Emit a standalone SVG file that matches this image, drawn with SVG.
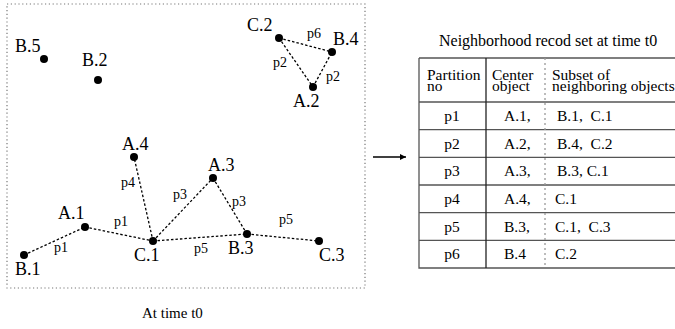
<svg xmlns="http://www.w3.org/2000/svg" width="675" height="329" viewBox="0 0 675 329">
<defs>
<style>
text{font-family:"Liberation Serif","Times New Roman",serif;fill:#000}
.nl{font-size:18px}
.el{font-size:14px}
.tb{font-size:15.5px}
.dot{fill:#000}
.edge{stroke:#000;stroke-width:1.3;stroke-dasharray:2.5 2;fill:none}
.frame{stroke:#777;stroke-width:1.2;stroke-dasharray:1.2 2.6;fill:none}
.tline{stroke:#555;stroke-width:1.3;fill:none}
</style>
<marker id="ah" viewBox="0 0 10 10" refX="10" refY="5" markerWidth="13" markerHeight="6" markerUnits="userSpaceOnUse" orient="auto">
<path d="M0,0 L10,5 L0,10 z" fill="#000"/>
</marker>
</defs>
<rect class="frame" x="7" y="4" width="358" height="284"/>
<g id="connectors">
<line class="edge" x1="24" y1="255" x2="85" y2="227"/>
<line class="edge" x1="85" y1="227" x2="153" y2="241"/>
<line class="edge" x1="153" y1="241" x2="134" y2="157"/>
<line class="edge" x1="153" y1="241" x2="213" y2="178"/>
<line class="edge" x1="213" y1="178" x2="247" y2="234"/>
<line class="edge" x1="153" y1="241" x2="247" y2="234"/>
<line class="edge" x1="247" y1="234" x2="319" y2="241"/>
<line class="edge" x1="279" y1="38" x2="332" y2="52"/>
<line class="edge" x1="279" y1="38" x2="313" y2="87"/>
<line class="edge" x1="313" y1="87" x2="332" y2="52"/>
<line x1="373" y1="157" x2="406" y2="157" stroke="#000" stroke-width="1.5" marker-end="url(#ah)"/>
</g>
<g id="edge-labels" class="el">
<text x="307" y="38">p6</text>
<text x="273" y="67">p2</text>
<text x="326" y="81">p2</text>
<text x="121" y="187">p4</text>
<text x="173" y="199">p3</text>
<text x="232" y="206">p3</text>
<text x="114" y="226">p1</text>
<text x="54" y="252">p1</text>
<text x="194" y="253">p5</text>
<text x="279" y="224">p5</text>
</g>
<g id="B5"><circle class="dot" cx="44" cy="59" r="4"/><text class="nl" x="15" y="52">B.5</text></g>
<g id="B2"><circle class="dot" cx="98" cy="80" r="4"/><text class="nl" x="82" y="66">B.2</text></g>
<g id="C2"><circle class="dot" cx="279" cy="38" r="4"/><text class="nl" x="247" y="31">C.2</text></g>
<g id="B4"><circle class="dot" cx="332" cy="52" r="4"/><text class="nl" x="333" y="45">B.4</text></g>
<g id="A2"><circle class="dot" cx="313" cy="87" r="4"/><text class="nl" x="293" y="107">A.2</text></g>
<g id="A4"><circle class="dot" cx="134" cy="157" r="4"/><text class="nl" x="122" y="150">A.4</text></g>
<g id="A3"><circle class="dot" cx="213" cy="178" r="4"/><text class="nl" x="208" y="171">A.3</text></g>
<g id="A1"><circle class="dot" cx="85" cy="227" r="4"/><text class="nl" x="58" y="219">A.1</text></g>
<g id="C1"><circle class="dot" cx="153" cy="241" r="4"/><text class="nl" x="134" y="261">C.1</text></g>
<g id="B3"><circle class="dot" cx="247" cy="234" r="4"/><text class="nl" x="228" y="254">B.3</text></g>
<g id="C3"><circle class="dot" cx="319" cy="241" r="4"/><text class="nl" x="319" y="261">C.3</text></g>
<g id="B1"><circle class="dot" cx="24" cy="255" r="4"/><text class="nl" x="15" y="275">B.1</text></g>
<text x="142" y="318" style="font-size:15px">At time t0</text>
<g id="table">
<text x="439" y="46" style="font-size:16px">Neighborhood recod set at time t0</text>
<path class="tline" d="M419,58 H676 M419,58 V268 H676 M419,102 H676 M419,129.7 H676 M419,157.3 H676 M419,185 H676 M419,212.7 H676 M419,240.3 H676"/>
<line x1="486" y1="58" x2="486" y2="268" stroke="#222" stroke-width="1.3"/>
<line x1="545" y1="58" x2="545" y2="268" stroke="#999" stroke-width="1.3" stroke-dasharray="2 3"/>
<g class="tb">
<text x="427" y="80">Partition</text><text x="427" y="91">no</text>
<text x="492" y="80">Center</text><text x="492" y="91">object</text>
<text x="552" y="80">Subset of</text><text x="552" y="91">neighboring objects</text>
<text x="452" y="121" text-anchor="middle">p1</text><text x="504" y="121">A.1,</text><text x="557" y="121" xml:space="preserve">B.1,  C.1</text>
<text x="452" y="149" text-anchor="middle">p2</text><text x="504" y="149">A.2,</text><text x="557" y="149" xml:space="preserve">B.4,  C.2</text>
<text x="452" y="176" text-anchor="middle">p3</text><text x="504" y="176">A.3,</text><text x="557" y="176">B.3, C.1</text>
<text x="452" y="204" text-anchor="middle">p4</text><text x="504" y="204">A.4,</text><text x="555" y="204">C.1</text>
<text x="452" y="232" text-anchor="middle">p5</text><text x="504" y="232">B.3,</text><text x="555" y="232" xml:space="preserve">C.1,  C.3</text>
<text x="452" y="259" text-anchor="middle">p6</text><text x="504" y="259">B.4</text><text x="555" y="259">C.2</text>
</g>
</g>
</svg>
